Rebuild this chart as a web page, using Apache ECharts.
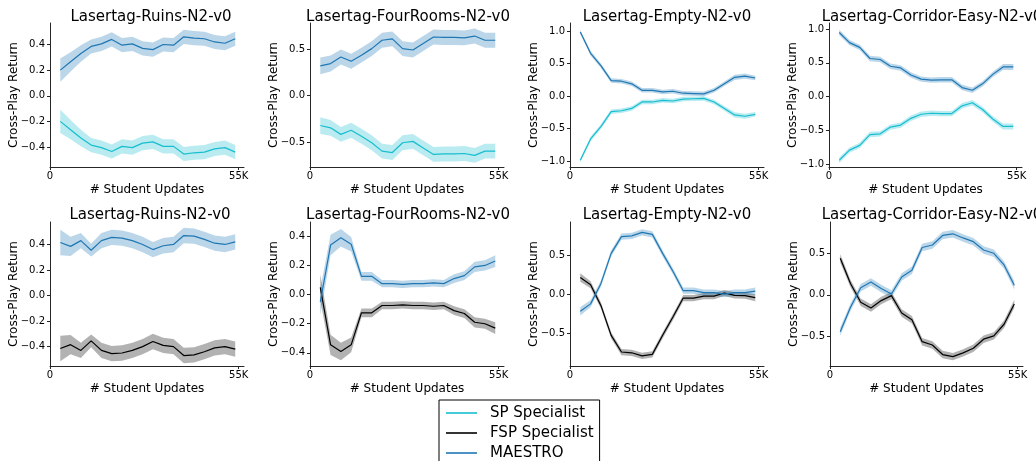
<!DOCTYPE html>
<html>
<head>
<meta charset="utf-8">
<script src="https://cdn.jsdelivr.net/npm/echarts@6/dist/echarts.min.js"></script>
<style>
  html, body { margin: 0; padding: 0; background: #fff; }
  #chart { width: 1036px; height: 461px; }
</style>
</head>
<body>
<div id="chart"></div>
<script>
// Evaluation checkpoints, in thousands of student updates
const steps = [3, 6, 9, 12, 15, 18, 21, 24, 27, 30, 33, 36, 39, 42, 45, 48, 51, 54];

const envNames = ['Lasertag-Ruins-N2-v0', 'Lasertag-FourRooms-N2-v0', 'Lasertag-Empty-N2-v0', 'Lasertag-Corridor-Easy-N2-v0'];
const seriesNames = ['SP Specialist', 'FSP Specialist', 'MAESTRO'];

const xTickValues = [0, 55];
const xTickLabels = ['0', '55K'];

const yTicksFine = [-0.4, -0.2, 0, 0.2, 0.4];
const yTicksHalf = [-0.5, 0, 0.5];
const yTicksWide = [-1, -0.5, 0, 0.5, 1];

// Top row: MAESTRO vs SP Specialist (mean and std band)
const ruinsSpMaestro = [0.20, 0.265, 0.33, 0.385, 0.405, 0.44, 0.395, 0.405, 0.37, 0.36, 0.40, 0.395, 0.46, 0.45, 0.445, 0.42, 0.41, 0.445];
const ruinsSpMaestroErr = [0.09, 0.075, 0.065, 0.055, 0.055, 0.055, 0.055, 0.055, 0.055, 0.055, 0.055, 0.055, 0.055, 0.055, 0.055, 0.055, 0.055, 0.055];
const ruinsSp = [-0.20, -0.265, -0.33, -0.385, -0.405, -0.435, -0.395, -0.405, -0.37, -0.36, -0.395, -0.395, -0.455, -0.445, -0.44, -0.415, -0.405, -0.44];
const ruinsSpErr = [0.09, 0.075, 0.065, 0.055, 0.055, 0.055, 0.055, 0.055, 0.055, 0.055, 0.055, 0.055, 0.055, 0.055, 0.055, 0.055, 0.055, 0.055];

const roomsSpMaestro = [0.32, 0.345, 0.415, 0.37, 0.435, 0.505, 0.595, 0.61, 0.505, 0.49, 0.56, 0.63, 0.625, 0.625, 0.62, 0.64, 0.595, 0.595];
const roomsSpMaestroErr = [0.09, 0.085, 0.08, 0.08, 0.08, 0.08, 0.08, 0.08, 0.08, 0.08, 0.08, 0.08, 0.08, 0.08, 0.08, 0.08, 0.08, 0.08];
const roomsSp = [-0.32, -0.345, -0.415, -0.37, -0.435, -0.505, -0.595, -0.61, -0.505, -0.49, -0.56, -0.63, -0.625, -0.625, -0.62, -0.64, -0.595, -0.595];
const roomsSpErr = [0.09, 0.085, 0.08, 0.08, 0.08, 0.08, 0.08, 0.08, 0.08, 0.08, 0.08, 0.08, 0.08, 0.08, 0.08, 0.08, 0.08, 0.08];

const emptySpMaestro = [0.99, 0.66, 0.47, 0.24, 0.23, 0.19, 0.09, 0.09, 0.065, 0.075, 0.045, 0.04, 0.035, 0.09, 0.19, 0.29, 0.31, 0.28];
const emptySpMaestroErr = [0.03, 0.035, 0.035, 0.035, 0.035, 0.035, 0.035, 0.035, 0.035, 0.035, 0.035, 0.035, 0.035, 0.035, 0.035, 0.04, 0.04, 0.035];
const emptySp = [-0.99, -0.66, -0.47, -0.24, -0.225, -0.19, -0.09, -0.09, -0.065, -0.075, -0.045, -0.04, -0.035, -0.09, -0.19, -0.29, -0.31, -0.28];
const emptySpErr = [0.03, 0.035, 0.035, 0.035, 0.035, 0.035, 0.035, 0.035, 0.035, 0.035, 0.035, 0.035, 0.035, 0.035, 0.035, 0.04, 0.04, 0.035];

const corridorSpMaestro = [0.95, 0.80, 0.73, 0.565, 0.55, 0.45, 0.425, 0.32, 0.26, 0.245, 0.25, 0.25, 0.135, 0.095, 0.19, 0.33, 0.44, 0.44];
const corridorSpMaestroErr = [0.04, 0.04, 0.04, 0.04, 0.04, 0.04, 0.04, 0.04, 0.04, 0.04, 0.04, 0.04, 0.04, 0.04, 0.04, 0.04, 0.045, 0.045];
const corridorSp = [-0.94, -0.79, -0.72, -0.56, -0.55, -0.45, -0.42, -0.32, -0.26, -0.245, -0.25, -0.25, -0.135, -0.09, -0.19, -0.33, -0.44, -0.44];
const corridorSpErr = [0.04, 0.04, 0.04, 0.04, 0.04, 0.04, 0.04, 0.04, 0.04, 0.04, 0.04, 0.04, 0.04, 0.04, 0.04, 0.04, 0.045, 0.045];

// Bottom row: MAESTRO vs FSP Specialist
const ruinsFspMaestro = [0.415, 0.385, 0.43, 0.355, 0.43, 0.455, 0.45, 0.43, 0.40, 0.36, 0.39, 0.40, 0.47, 0.465, 0.44, 0.41, 0.40, 0.42];
const ruinsFspMaestroErr = [0.10, 0.075, 0.06, 0.05, 0.06, 0.06, 0.06, 0.06, 0.06, 0.06, 0.06, 0.06, 0.06, 0.06, 0.06, 0.06, 0.06, 0.06];
const ruinsFsp = [-0.415, -0.385, -0.43, -0.355, -0.43, -0.455, -0.45, -0.43, -0.40, -0.36, -0.39, -0.40, -0.47, -0.465, -0.44, -0.41, -0.40, -0.42];
const ruinsFspErr = [0.10, 0.075, 0.06, 0.05, 0.06, 0.06, 0.06, 0.06, 0.06, 0.06, 0.06, 0.06, 0.06, 0.06, 0.06, 0.06, 0.06, 0.06];

const roomsFspMaestro = [-0.05, 0.34, 0.39, 0.345, 0.125, 0.125, 0.075, 0.075, 0.07, 0.075, 0.075, 0.08, 0.075, 0.11, 0.13, 0.19, 0.20, 0.23];
const roomsFspMaestroErr = [0.09, 0.07, 0.06, 0.05, 0.03, 0.03, 0.025, 0.025, 0.025, 0.025, 0.025, 0.025, 0.025, 0.03, 0.03, 0.035, 0.035, 0.04];
const roomsFsp = [0.05, -0.345, -0.39, -0.345, -0.125, -0.125, -0.075, -0.075, -0.07, -0.075, -0.075, -0.08, -0.075, -0.11, -0.13, -0.19, -0.20, -0.23];
const roomsFspErr = [0.09, 0.07, 0.06, 0.05, 0.03, 0.03, 0.025, 0.025, 0.025, 0.025, 0.025, 0.025, 0.025, 0.03, 0.03, 0.035, 0.035, 0.04];

const emptyFspMaestro = [-0.215, -0.12, 0.14, 0.53, 0.745, 0.755, 0.80, 0.775, 0.53, 0.30, 0.05, 0.05, 0.025, 0.025, 0.005, 0.025, 0.025, 0.045];
const emptyFspMaestroErr = [0.055, 0.045, 0.04, 0.04, 0.04, 0.04, 0.04, 0.04, 0.04, 0.04, 0.04, 0.04, 0.04, 0.04, 0.04, 0.04, 0.04, 0.045];
const emptyFsp = [0.22, 0.125, -0.14, -0.525, -0.74, -0.75, -0.79, -0.77, -0.525, -0.29, -0.045, -0.045, -0.02, -0.02, 0.02, -0.01, -0.015, -0.04];
const emptyFspErr = [0.055, 0.045, 0.04, 0.04, 0.04, 0.04, 0.04, 0.04, 0.04, 0.04, 0.04, 0.04, 0.04, 0.04, 0.04, 0.04, 0.04, 0.045];

const corridorFspMaestro = [-0.445, -0.15, 0.085, 0.155, 0.075, 0.01, 0.215, 0.295, 0.57, 0.60, 0.715, 0.735, 0.685, 0.64, 0.54, 0.50, 0.36, 0.115];
const corridorFspMaestroErr = [0.05, 0.045, 0.045, 0.045, 0.045, 0.045, 0.045, 0.045, 0.045, 0.045, 0.045, 0.045, 0.045, 0.045, 0.045, 0.045, 0.045, 0.05];
const corridorFsp = [0.44, 0.135, -0.09, -0.16, -0.07, -0.01, -0.22, -0.30, -0.565, -0.605, -0.72, -0.745, -0.70, -0.645, -0.535, -0.495, -0.355, -0.11];
const corridorFspErr = [0.05, 0.045, 0.045, 0.045, 0.045, 0.045, 0.045, 0.045, 0.045, 0.045, 0.045, 0.045, 0.045, 0.045, 0.045, 0.045, 0.045, 0.05];

// Styling
const FONT = 'DejaVu Sans';
const lineColors = { 'SP Specialist': '#17becf', 'FSP Specialist': '#000000', 'MAESTRO': '#1f77b4' };
const bandColors = { 'SP Specialist': 'rgba(23,190,207,0.3)', 'FSP Specialist': 'rgba(0,0,0,0.3)', 'MAESTRO': 'rgba(31,119,180,0.3)' };

// Panel layout (pixel boxes of each axes area, value ranges, titles)
const panels = [
  { title: envNames[0], tx: 151, ty: 10,  left: 50,  top: 23,  width: 194, height: 144, ymin: -0.556, ymax: 0.568, yTicks: yTicksFine,
    curves: [[seriesNames[0], ruinsSp, ruinsSpErr], [seriesNames[2], ruinsSpMaestro, ruinsSpMaestroErr]] },
  { title: envNames[1], tx: 408, ty: 10,  left: 310, top: 23,  width: 194, height: 144, ymin: -0.765, ymax: 0.78, yTicks: yTicksHalf,
    curves: [[seriesNames[0], roomsSp, roomsSpErr], [seriesNames[2], roomsSpMaestro, roomsSpMaestroErr]] },
  { title: envNames[2], tx: 667, ty: 10,  left: 570, top: 23,  width: 194, height: 144, ymin: -1.093, ymax: 1.128, yTicks: yTicksWide,
    curves: [[seriesNames[0], emptySp, emptySpErr], [seriesNames[2], emptySpMaestro, emptySpMaestroErr]] },
  { title: envNames[3], tx: 932, ty: 10,  left: 829, top: 23,  width: 193, height: 144, ymin: -1.04, ymax: 1.09, yTicks: yTicksWide,
    curves: [[seriesNames[0], corridorSp, corridorSpErr], [seriesNames[2], corridorSpMaestro, corridorSpMaestroErr]] },
  { title: envNames[0], tx: 150, ty: 208, left: 50,  top: 222, width: 194, height: 144, ymin: -0.552, ymax: 0.576, yTicks: yTicksFine,
    curves: [[seriesNames[1], ruinsFsp, ruinsFspErr], [seriesNames[2], ruinsFspMaestro, ruinsFspMaestroErr]] },
  { title: envNames[1], tx: 408, ty: 208, left: 310, top: 222, width: 194, height: 144, ymin: -0.49, ymax: 0.498, yTicks: yTicksFine,
    curves: [[seriesNames[1], roomsFsp, roomsFspErr], [seriesNames[2], roomsFspMaestro, roomsFspMaestroErr]] },
  { title: envNames[2], tx: 667, ty: 208, left: 570, top: 222, width: 194, height: 144, ymin: -0.92, ymax: 0.934, yTicks: yTicksHalf,
    curves: [[seriesNames[1], emptyFsp, emptyFspErr], [seriesNames[2], emptyFspMaestro, emptyFspMaestroErr]] },
  { title: envNames[3], tx: 932, ty: 208, left: 830, top: 222, width: 193, height: 144, ymin: -0.858, ymax: 0.877, yTicks: yTicksHalf,
    curves: [[seriesNames[1], corridorFsp, corridorFspErr], [seriesNames[2], corridorFspMaestro, corridorFspMaestroErr]] }
];

const axisLineStyle = { color: '#262626', width: 1 };
const fmtY = v => v.toFixed(1).replace('-', '\u2212');

function bandSeries(idx, mean, err, color) {
  const pts = steps.map((x, i) => [x, mean[i] - err[i], mean[i] + err[i]]);
  return {
    type: 'custom',
    xAxisIndex: idx,
    yAxisIndex: idx,
    silent: true,
    z: 1,
    data: pts,
    encode: { x: 0, y: [1, 2] },
    renderItem(params, api) {
      if (params.dataIndex !== 0) return null;
      const upper = pts.map(p => api.coord([p[0], p[2]]));
      const lower = pts.map(p => api.coord([p[0], p[1]])).reverse();
      return { type: 'polygon', shape: { points: upper.concat(lower) }, style: { fill: color } };
    }
  };
}

const grid = [], xAxis = [], yAxis = [], title = [], series = [];
panels.forEach((p, i) => {
  grid.push({ left: p.left, top: p.top, width: p.width, height: p.height, containLabel: false });
  title.push({
    text: p.title, left: p.tx, top: p.ty, textAlign: 'center', padding: 0,
    textStyle: { fontFamily: FONT, fontSize: 15, fontWeight: 'normal', color: '#000' }
  });
  xAxis.push({
    gridIndex: i, type: 'value', min: 0, max: 56.55,
    axisLine: { show: true, onZero: false, lineStyle: axisLineStyle },
    axisTick: { show: true, length: 3, customValues: xTickValues, lineStyle: axisLineStyle },
    axisLabel: {
      customValues: xTickValues, margin: 4, fontFamily: FONT, fontSize: 10, color: '#000',
      formatter: v => xTickLabels[xTickValues.indexOf(v)]
    },
    splitLine: { show: false },
    name: '# Student Updates', nameLocation: 'middle', nameGap: 17,
    nameTextStyle: { fontFamily: FONT, fontSize: 12, color: '#000' }
  });
  yAxis.push({
    gridIndex: i, type: 'value', min: p.ymin, max: p.ymax,
    axisLine: { show: true, onZero: false, lineStyle: axisLineStyle },
    axisTick: { show: true, length: 3, customValues: p.yTicks, lineStyle: axisLineStyle },
    axisLabel: { customValues: p.yTicks, margin: 5, fontFamily: FONT, fontSize: 10, color: '#000', formatter: fmtY },
    splitLine: { show: false },
    name: 'Cross-Play Return', nameLocation: 'middle', nameGap: 30, nameRotate: 90, nameMoveOverlap: false,
    nameTextStyle: { fontFamily: FONT, fontSize: 12, color: '#000' }
  });
  p.curves.forEach(([name, mean, err]) => {
    series.push(bandSeries(i, mean, err, bandColors[name]));
    series.push({
      type: 'line', name: name, xAxisIndex: i, yAxisIndex: i, z: 3,
      data: steps.map((x, k) => [x, mean[k]]),
      symbol: 'none', silent: true,
      color: lineColors[name],
      lineStyle: { color: lineColors[name], width: 1.2 },
      itemStyle: { color: lineColors[name] }
    });
  });
});

const chart = echarts.init(document.getElementById('chart'), null, { renderer: 'canvas' });
chart.setOption({
  animation: false,
  backgroundColor: '#fff',
  title: title,
  grid: grid,
  xAxis: xAxis,
  yAxis: yAxis,
  legend: {
    data: seriesNames,
    orient: 'vertical',
    left: 439, top: 400, height: 90,
    padding: [5, 6, 5, 7],
    itemGap: 4,
    itemWidth: 31, itemHeight: 1.6,
    icon: 'rect',
    borderColor: '#000', borderWidth: 1, borderRadius: 0,
    selectedMode: false,
    textStyle: { fontFamily: FONT, fontSize: 15, color: '#000', lineHeight: 16, padding: [0, 0, 0, 8] }
  },
  series: series
});
</script>
</body>
</html>
